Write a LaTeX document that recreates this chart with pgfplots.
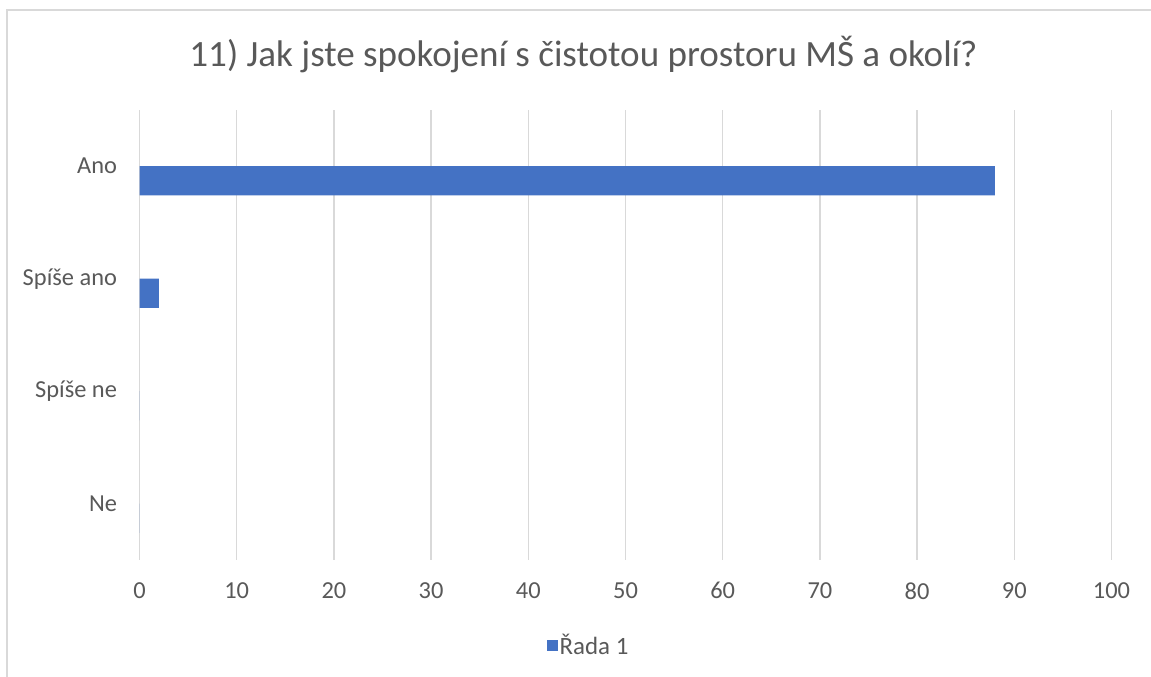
\documentclass[border=0pt]{standalone}
\usepackage{pgfplots}
\pgfplotsset{compat=1.18}
\usepackage{fontspec}
\setmainfont{Carlito}
\definecolor{barblue}{HTML}{4472C4}
\definecolor{gridgray}{HTML}{D9D9D9}
\definecolor{txtgray}{HTML}{595959}
\begin{document}
\begin{tikzpicture}[x=1bp,y=1bp]
\useasboundingbox (0,0) rectangle (1151,677);
\draw[gridgray, line width=1.5bp] (7,0) -- (7,667) -- (1151,667);
\node[txtgray, anchor=base, inner sep=0pt, font=\fontsize{37.2}{44}\selectfont] at (583.5,610) {11) Jak jste spokojení s čistotou prostoru MŠ a okolí?};
\begin{axis}[at={(139.5bp,117bp)}, anchor=south west, scale only axis,
  width=972bp, height=450bp,
  xmin=0, xmax=100, ymin=-0.5, ymax=3.5,
  xtick={0,10,...,100}, ytick={0,1,2,3},
  yticklabels={Ne,Spíše ne,Spíše ano,Ano},
  xmajorgrids, grid style={gridgray, line width=1.5bp},
  axis line style={draw=none}, major tick length=0pt,
  tick label style={txtgray, font=\fontsize{24.5}{29}\selectfont},
  xticklabel style={yshift=-19bp},
  yticklabel style={xshift=-19bp},
  /pgf/number format/assume math mode=true,
  xbar, bar width=0.258, bar shift=-0.129,
  legend style={at={(0.462,-0.189)}, anchor=center, draw=none, fill=none,
    font=\fontsize{25}{30}\selectfont, text=txtgray},
  legend image code/.code={\fill[barblue] (0bp,-5.5bp) rectangle (11bp,5.5bp);},
]
\addplot[fill=barblue, draw=none] coordinates {(88,3) (2,2) (0,1) (0,0)};
\addlegendentry{Řada 1}
\end{axis}
\end{tikzpicture}
\end{document}
